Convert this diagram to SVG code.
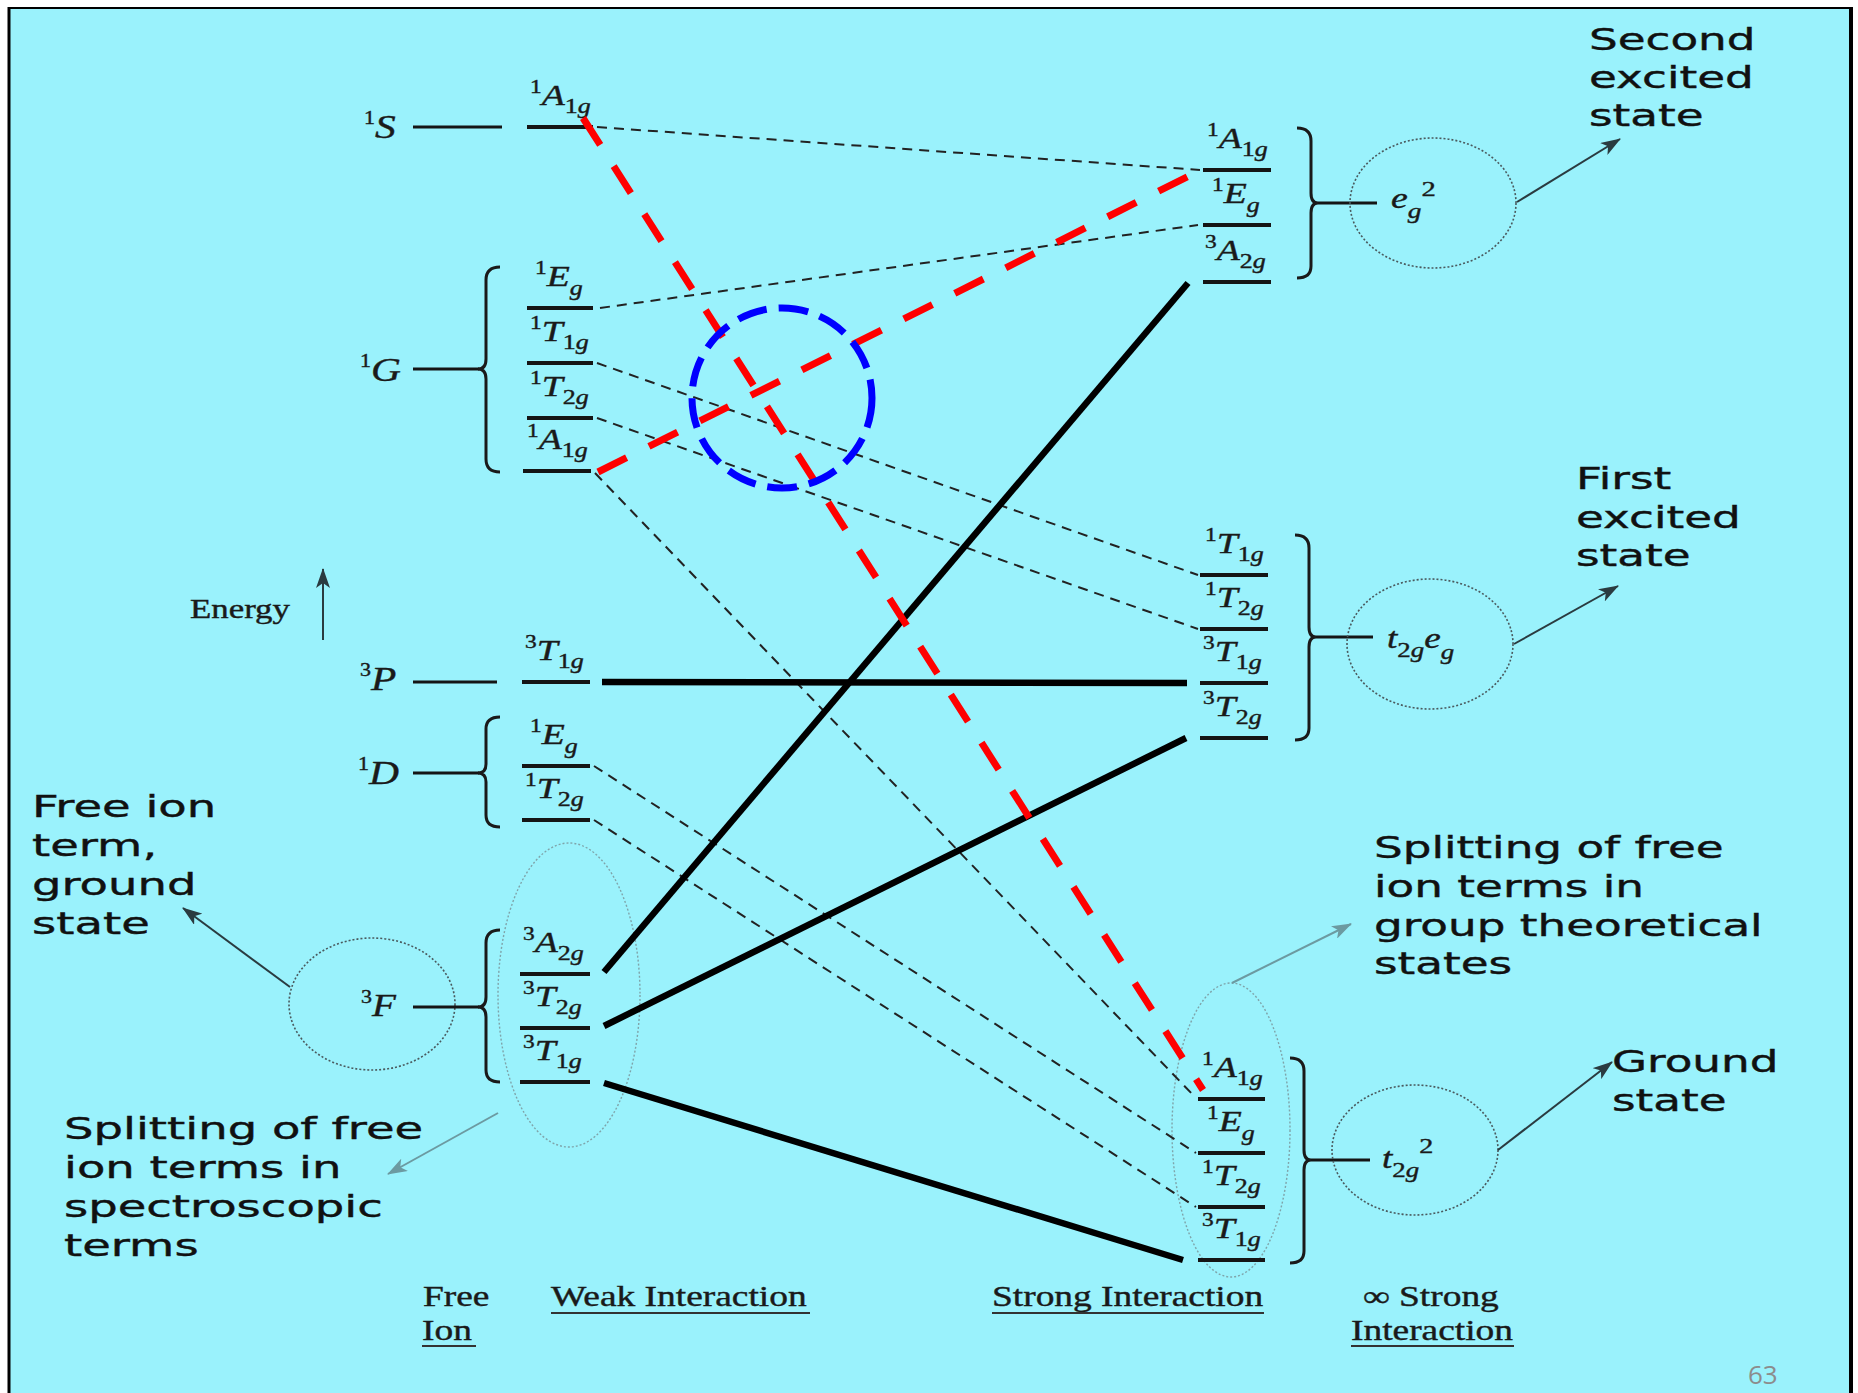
<svg xmlns="http://www.w3.org/2000/svg" width="1858" height="1393" viewBox="0 0 1858 1393">
<style>
.lvl{stroke:#151515;stroke-width:4}
.fl{stroke:#151515;stroke-width:3}
.br{fill:none;stroke:#1a1a1a;stroke-width:3}
.dsh{stroke:#222;stroke-width:2;stroke-dasharray:10 7;fill:none}
.thk{stroke:#000;stroke-width:6.5}
.red{stroke:#ff0000;stroke-width:7;stroke-dasharray:32 25}
.blu{fill:none;stroke:#0000ff;stroke-width:7;stroke-dasharray:30 12}
.dot{fill:none;stroke:#4a5a5e;stroke-width:1.6;stroke-dasharray:2 2}
.dotl{fill:none;stroke:#7fa4aa;stroke-width:1.4;stroke-dasharray:2 2}
.arr{stroke:#2a3b40;stroke-width:2;marker-end:url(#ah)}
.arrl{stroke:#6c9aa1;stroke-width:2;marker-end:url(#ahl)}
.tm{font-family:"Liberation Serif",serif;fill:#1a1a1a;stroke:#1a1a1a;stroke-width:0.4}
.lb{font-size:29px}
.it{font-style:italic}
.s{font-size:18px}
.b{font-size:20px}
.side{font-family:"DejaVu Sans",sans-serif;font-size:31px;fill:#111;stroke:#111;stroke-width:0.4}
.cap{font-size:29px}
.ul{stroke:#333;stroke-width:2}
</style>
<defs>
<marker id="ah" viewBox="0 0 20 14" refX="19" refY="7" markerWidth="20" markerHeight="14" markerUnits="userSpaceOnUse" orient="auto"><path d="M0,0 L20,7 L0,14 L5,7 z" fill="#2a3b40"/></marker>
<marker id="ahl" viewBox="0 0 20 14" refX="19" refY="7" markerWidth="20" markerHeight="14" markerUnits="userSpaceOnUse" orient="auto"><path d="M0,0 L20,7 L0,14 L5,7 z" fill="#6c9aa1"/></marker>
</defs>
<rect x="0" y="0" width="1858" height="1393" fill="#ffffff"/>
<rect x="9" y="8" width="1842" height="1390" fill="#9af2fc"/>
<line x1="9" y1="7" x2="9" y2="1393" stroke="#000" stroke-width="3"/>
<line x1="8" y1="8" x2="1852" y2="8" stroke="#000" stroke-width="2"/>
<line x1="1851" y1="7" x2="1851" y2="1393" stroke="#000" stroke-width="4"/>

<!-- Energy axis -->
<g id="energy">
<text class="tm" font-size="27" transform="translate(190,618) scale(1.29,1)">Energy</text>
<line x1="323" y1="640" x2="323" y2="569" class="arr"/>
</g>

<!-- Free ion terms -->
<g id="free-1S">
<text class="tm" font-size="34" transform="translate(364,138) scale(1.22,1)"><tspan class="s" dy="-14">1</tspan><tspan class="it" dy="14">S</tspan></text>
<line class="fl" x1="413" y1="127" x2="502" y2="127"/>
</g>
<g id="free-1G">
<text class="tm" font-size="34" transform="translate(360,381) scale(1.22,1)"><tspan class="s" dy="-14">1</tspan><tspan class="it" dy="14">G</tspan></text>
<line class="fl" x1="413" y1="369" x2="479" y2="369"/>
<path class="br" d="M500,267 Q486,267 486,280 L486,359 Q486,369 478,369 Q486,369 486,379 L486,459 Q486,472 500,472"/>
</g>
<g id="free-3P">
<text class="tm" font-size="34" transform="translate(360,690) scale(1.22,1)"><tspan class="s" dy="-14">3</tspan><tspan class="it" dy="14">P</tspan></text>
<line class="fl" x1="413" y1="682" x2="497" y2="682"/>
</g>
<g id="free-1D">
<text class="tm" font-size="34" transform="translate(358,784) scale(1.22,1)"><tspan class="s" dy="-14">1</tspan><tspan class="it" dy="14">D</tspan></text>
<line class="fl" x1="413" y1="773" x2="479" y2="773"/>
<path class="br" d="M500,717 Q486,717 486,729 L486,764 Q486,773 478,773 Q486,773 486,782 L486,815 Q486,827 500,827"/>
</g>
<g id="free-3F">
<ellipse class="dot" cx="372" cy="1004" rx="83" ry="66"/>
<text class="tm" font-size="32" transform="translate(361,1016) scale(1.22,1)"><tspan class="s" dy="-13">3</tspan><tspan class="it" dy="13">F</tspan></text>
<line class="fl" x1="413" y1="1007" x2="479" y2="1007"/>
<path class="br" d="M500,930 Q486,930 486,943 L486,997 Q486,1007 478,1007 Q486,1007 486,1017 L486,1070 Q486,1082 500,1082"/>
</g>

<!-- Weak interaction levels -->
<g id="w-S-A1g"><line class="lvl" x1="527" y1="127" x2="593" y2="127"/>
<text class="tm lb" transform="translate(530,105) scale(1.3,1)"><tspan class="s" dy="-12">1</tspan><tspan class="it" dy="12">A</tspan><tspan class="b" dy="8">1</tspan><tspan class="b it">g</tspan></text></g>
<g id="w-G-Eg"><line class="lvl" x1="527" y1="308" x2="593" y2="308"/>
<text class="tm lb" transform="translate(535,286) scale(1.3,1)"><tspan class="s" dy="-12">1</tspan><tspan class="it" dy="12">E</tspan><tspan class="b it" dy="9">g</tspan></text></g>
<g id="w-G-T1g"><line class="lvl" x1="527" y1="363" x2="593" y2="363"/>
<text class="tm lb" transform="translate(530,341) scale(1.3,1)"><tspan class="s" dy="-12">1</tspan><tspan class="it" dy="12">T</tspan><tspan class="b" dy="8">1</tspan><tspan class="b it">g</tspan></text></g>
<g id="w-G-T2g"><line class="lvl" x1="527" y1="418" x2="593" y2="418"/>
<text class="tm lb" transform="translate(530,396) scale(1.3,1)"><tspan class="s" dy="-12">1</tspan><tspan class="it" dy="12">T</tspan><tspan class="b" dy="8">2</tspan><tspan class="b it">g</tspan></text></g>
<g id="w-G-A1g"><line class="lvl" x1="523" y1="471" x2="591" y2="471"/>
<text class="tm lb" transform="translate(527,449) scale(1.3,1)"><tspan class="s" dy="-12">1</tspan><tspan class="it" dy="12">A</tspan><tspan class="b" dy="8">1</tspan><tspan class="b it">g</tspan></text></g>
<g id="w-P-T1g"><line class="lvl" x1="522" y1="682" x2="590" y2="682"/>
<text class="tm lb" transform="translate(525,660) scale(1.3,1)"><tspan class="s" dy="-12">3</tspan><tspan class="it" dy="12">T</tspan><tspan class="b" dy="8">1</tspan><tspan class="b it">g</tspan></text></g>
<g id="w-D-Eg"><line class="lvl" x1="522" y1="766" x2="590" y2="766"/>
<text class="tm lb" transform="translate(530,744) scale(1.3,1)"><tspan class="s" dy="-12">1</tspan><tspan class="it" dy="12">E</tspan><tspan class="b it" dy="9">g</tspan></text></g>
<g id="w-D-T2g"><line class="lvl" x1="522" y1="820" x2="590" y2="820"/>
<text class="tm lb" transform="translate(525,798) scale(1.3,1)"><tspan class="s" dy="-12">1</tspan><tspan class="it" dy="12">T</tspan><tspan class="b" dy="8">2</tspan><tspan class="b it">g</tspan></text></g>
<g id="w-F-group"><ellipse class="dotl" cx="569" cy="995" rx="71" ry="152"/></g>
<g id="w-F-A2g"><line class="lvl" x1="520" y1="974" x2="590" y2="974"/>
<text class="tm lb" transform="translate(523,952) scale(1.3,1)"><tspan class="s" dy="-12">3</tspan><tspan class="it" dy="12">A</tspan><tspan class="b" dy="8">2</tspan><tspan class="b it">g</tspan></text></g>
<g id="w-F-T2g"><line class="lvl" x1="520" y1="1028" x2="590" y2="1028"/>
<text class="tm lb" transform="translate(523,1006) scale(1.3,1)"><tspan class="s" dy="-12">3</tspan><tspan class="it" dy="12">T</tspan><tspan class="b" dy="8">2</tspan><tspan class="b it">g</tspan></text></g>
<g id="w-F-T1g"><line class="lvl" x1="520" y1="1082" x2="590" y2="1082"/>
<text class="tm lb" transform="translate(523,1060) scale(1.3,1)"><tspan class="s" dy="-12">3</tspan><tspan class="it" dy="12">T</tspan><tspan class="b" dy="8">1</tspan><tspan class="b it">g</tspan></text></g>

<!-- Strong interaction levels: eg^2 -->
<g id="s-eg2-A1g"><line class="lvl" x1="1203" y1="170" x2="1271" y2="170"/>
<text class="tm lb" transform="translate(1207,148) scale(1.3,1)"><tspan class="s" dy="-12">1</tspan><tspan class="it" dy="12">A</tspan><tspan class="b" dy="8">1</tspan><tspan class="b it">g</tspan></text></g>
<g id="s-eg2-Eg"><line class="lvl" x1="1203" y1="225" x2="1271" y2="225"/>
<text class="tm lb" transform="translate(1212,203) scale(1.3,1)"><tspan class="s" dy="-12">1</tspan><tspan class="it" dy="12">E</tspan><tspan class="b it" dy="9">g</tspan></text></g>
<g id="s-eg2-A2g"><line class="lvl" x1="1203" y1="282" x2="1271" y2="282"/>
<text class="tm lb" transform="translate(1205,260) scale(1.3,1)"><tspan class="s" dy="-12">3</tspan><tspan class="it" dy="12">A</tspan><tspan class="b" dy="8">2</tspan><tspan class="b it">g</tspan></text></g>
<g id="cfg-eg2">
<path class="br" d="M1297,128 Q1311,128 1311,141 L1311,193 Q1311,203 1318,203 Q1311,203 1311,213 L1311,266 Q1311,278 1297,278"/>
<line class="fl" x1="1318" y1="203" x2="1377" y2="203"/>
<ellipse class="dot" cx="1433" cy="203" rx="83" ry="65"/>
<text class="tm" font-size="29" transform="translate(1391,208) scale(1.3,1)"><tspan class="it">e</tspan><tspan class="it" font-size="21" dy="10">g</tspan><tspan font-size="22" dy="-22">2</tspan></text>
</g>

<!-- t2g eg -->
<g id="s-t2geg-1T1g"><line class="lvl" x1="1200" y1="575" x2="1268" y2="575"/>
<text class="tm lb" transform="translate(1205,553) scale(1.3,1)"><tspan class="s" dy="-12">1</tspan><tspan class="it" dy="12">T</tspan><tspan class="b" dy="8">1</tspan><tspan class="b it">g</tspan></text></g>
<g id="s-t2geg-1T2g"><line class="lvl" x1="1200" y1="629" x2="1268" y2="629"/>
<text class="tm lb" transform="translate(1205,607) scale(1.3,1)"><tspan class="s" dy="-12">1</tspan><tspan class="it" dy="12">T</tspan><tspan class="b" dy="8">2</tspan><tspan class="b it">g</tspan></text></g>
<g id="s-t2geg-3T1g"><line class="lvl" x1="1200" y1="683" x2="1268" y2="683"/>
<text class="tm lb" transform="translate(1203,661) scale(1.3,1)"><tspan class="s" dy="-12">3</tspan><tspan class="it" dy="12">T</tspan><tspan class="b" dy="8">1</tspan><tspan class="b it">g</tspan></text></g>
<g id="s-t2geg-3T2g"><line class="lvl" x1="1200" y1="738" x2="1268" y2="738"/>
<text class="tm lb" transform="translate(1203,716) scale(1.3,1)"><tspan class="s" dy="-12">3</tspan><tspan class="it" dy="12">T</tspan><tspan class="b" dy="8">2</tspan><tspan class="b it">g</tspan></text></g>
<g id="cfg-t2geg">
<path class="br" d="M1295,535 Q1309,535 1309,548 L1309,627 Q1309,637 1316,637 Q1309,637 1309,647 L1309,728 Q1309,740 1295,740"/>
<line class="fl" x1="1316" y1="637" x2="1373" y2="637"/>
<ellipse class="dot" cx="1430" cy="644" rx="83" ry="65"/>
<text class="tm" font-size="29" transform="translate(1387,648) scale(1.28,1)"><tspan class="it">t</tspan><tspan font-size="21" dy="9">2</tspan><tspan class="it" font-size="21">g</tspan><tspan class="it" dy="-9">e</tspan><tspan class="it" font-size="21" dy="11">g</tspan></text>
</g>

<!-- t2g^2 -->
<g id="s-t2g2-group"><ellipse class="dotl" cx="1231" cy="1130" rx="59" ry="147"/></g>
<g id="s-t2g2-A1g"><line class="lvl" x1="1198" y1="1099" x2="1265" y2="1099"/>
<text class="tm lb" transform="translate(1202,1077) scale(1.3,1)"><tspan class="s" dy="-12">1</tspan><tspan class="it" dy="12">A</tspan><tspan class="b" dy="8">1</tspan><tspan class="b it">g</tspan></text></g>
<g id="s-t2g2-Eg"><line class="lvl" x1="1198" y1="1153" x2="1265" y2="1153"/>
<text class="tm lb" transform="translate(1207,1131) scale(1.3,1)"><tspan class="s" dy="-12">1</tspan><tspan class="it" dy="12">E</tspan><tspan class="b it" dy="9">g</tspan></text></g>
<g id="s-t2g2-T2g"><line class="lvl" x1="1198" y1="1207" x2="1265" y2="1207"/>
<text class="tm lb" transform="translate(1202,1185) scale(1.3,1)"><tspan class="s" dy="-12">1</tspan><tspan class="it" dy="12">T</tspan><tspan class="b" dy="8">2</tspan><tspan class="b it">g</tspan></text></g>
<g id="s-t2g2-T1g"><line class="lvl" x1="1198" y1="1260" x2="1265" y2="1260"/>
<text class="tm lb" transform="translate(1202,1238) scale(1.3,1)"><tspan class="s" dy="-12">3</tspan><tspan class="it" dy="12">T</tspan><tspan class="b" dy="8">1</tspan><tspan class="b it">g</tspan></text></g>
<g id="cfg-t2g2">
<path class="br" d="M1290,1058 Q1304,1058 1304,1071 L1304,1150 Q1304,1160 1311,1160 Q1304,1160 1304,1170 L1304,1251 Q1304,1263 1290,1263"/>
<line class="fl" x1="1311" y1="1160" x2="1370" y2="1160"/>
<ellipse class="dot" cx="1415" cy="1150" rx="83" ry="65"/>
<text class="tm" font-size="29" transform="translate(1382,1168) scale(1.28,1)"><tspan class="it">t</tspan><tspan font-size="21" dy="9">2</tspan><tspan class="it" font-size="21">g</tspan><tspan font-size="22" dy="-24">2</tspan></text>
</g>

<!-- Connectors -->
<g id="connectors">
<line class="dsh" x1="597" y1="127" x2="1200" y2="170"/>
<line class="dsh" x1="600" y1="308" x2="1198" y2="225"/>
<line class="dsh" x1="597" y1="363" x2="1198" y2="575"/>
<line class="dsh" x1="597" y1="418" x2="1198" y2="629"/>
<line class="dsh" x1="595" y1="473" x2="1195" y2="1097"/>
<line class="dsh" x1="594" y1="766" x2="1196" y2="1153"/>
<line class="dsh" x1="594" y1="820" x2="1196" y2="1207"/>
<line class="thk" x1="602" y1="682" x2="1187" y2="683"/>
<line class="thk" x1="604" y1="972" x2="1188" y2="283"/>
<line class="thk" x1="604" y1="1026" x2="1186" y2="738"/>
<line class="thk" x1="604" y1="1083" x2="1183" y2="1260"/>
<line class="red" x1="583" y1="118" x2="1203" y2="1090"/>
<line class="red" x1="598" y1="472" x2="1207" y2="167"/>
<circle class="blu" cx="782" cy="398" r="90"/>
<line class="arr" x1="290" y1="987" x2="183" y2="908"/>
<line class="arrl" x1="498" y1="1113" x2="388" y2="1174"/>
<line class="arrl" x1="1232" y1="983" x2="1351" y2="924"/>
<line class="arr" x1="1517" y1="202" x2="1620" y2="139"/>
<line class="arr" x1="1514" y1="644" x2="1618" y2="586"/>
<line class="arr" x1="1498" y1="1150" x2="1612" y2="1062"/>
</g>

<!-- Annotation texts -->
<g id="note-free-ion" transform="translate(32,0) scale(1.5,1)">
<text class="side" x="0" y="817">Free ion</text>
<text class="side" x="0" y="856">term,</text>
<text class="side" x="0" y="895">ground</text>
<text class="side" x="0" y="934">state</text>
</g>
<g id="note-spectro" transform="translate(64,0) scale(1.5,1)">
<text class="side" x="0" y="1139">Splitting of free</text>
<text class="side" x="0" y="1178">ion terms in</text>
<text class="side" x="0" y="1217">spectroscopic</text>
<text class="side" x="0" y="1256">terms</text>
</g>
<g id="note-second" transform="translate(1589,0) scale(1.46,1)">
<text class="side" x="0" y="50">Second</text>
<text class="side" x="0" y="88">excited</text>
<text class="side" x="0" y="126">state</text>
</g>
<g id="note-first" transform="translate(1576,0) scale(1.46,1)">
<text class="side" x="0" y="489">First</text>
<text class="side" x="0" y="528">excited</text>
<text class="side" x="0" y="566">state</text>
</g>
<g id="note-group" transform="translate(1374,0) scale(1.46,1)">
<text class="side" x="0" y="858">Splitting of free</text>
<text class="side" x="0" y="897">ion terms in</text>
<text class="side" x="0" y="936">group theoretical</text>
<text class="side" x="0" y="974">states</text>
</g>
<g id="note-ground" transform="translate(1612,0) scale(1.46,1)">
<text class="side" x="0" y="1072">Ground</text>
<text class="side" x="0" y="1111">state</text>
</g>

<!-- Column captions -->
<g id="captions">
<text class="tm cap" transform="translate(423,1306) scale(1.29,1)">Free</text>
<text class="tm cap" transform="translate(422,1340) scale(1.29,1)">Ion</text>
<line class="ul" x1="422" y1="1346" x2="476" y2="1346"/>
<text class="tm cap" transform="translate(551,1306) scale(1.29,1)">Weak Interaction</text>
<line class="ul" x1="551" y1="1313" x2="810" y2="1313"/>
<text class="tm cap" transform="translate(992,1306) scale(1.29,1)">Strong Interaction</text>
<line class="ul" x1="992" y1="1313" x2="1264" y2="1313"/>
<text class="tm cap" transform="translate(1363,1306) scale(1.29,1)">∞ Strong</text>
<text class="tm cap" transform="translate(1351,1340) scale(1.29,1)">Interaction</text>
<line class="ul" x1="1351" y1="1346" x2="1514" y2="1346"/>
</g>
<text x="1748" y="1384" font-family="Open Sans, sans-serif" font-size="26" fill="#8c8c8c">63</text>
</svg>
